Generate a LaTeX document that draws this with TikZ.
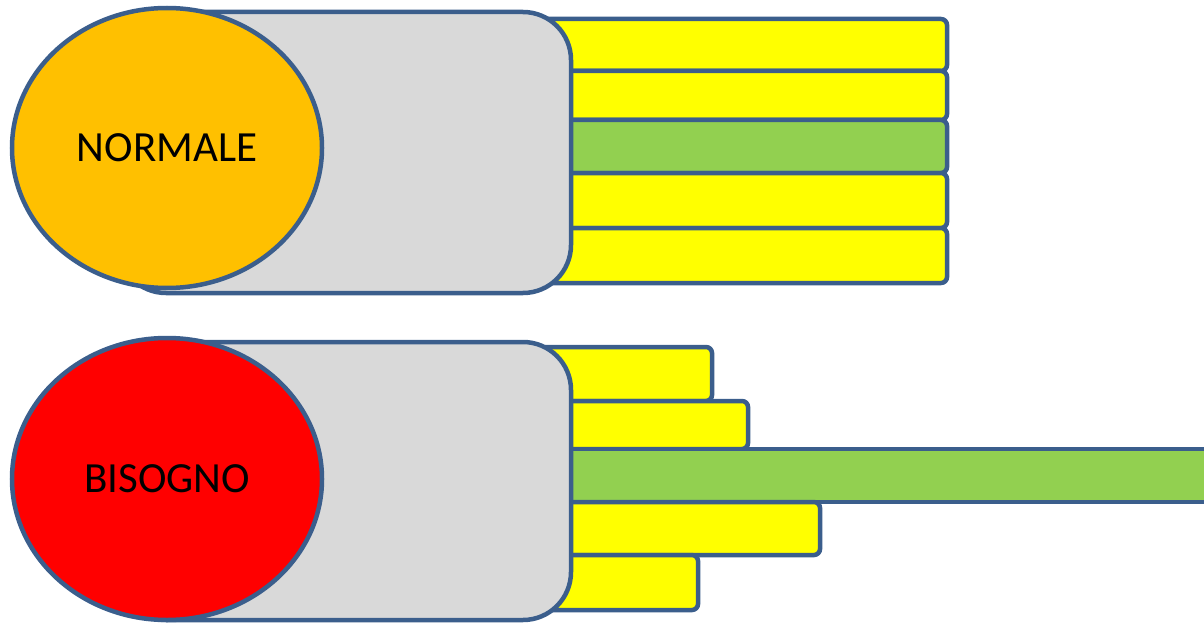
\documentclass[tikz,border=0pt]{standalone}
\usepackage{fontspec}
\setmainfont{Carlito}
\usetikzlibrary{shapes.geometric}
\definecolor{edgeblue}{HTML}{3B5E8C}
\definecolor{barYellow}{HTML}{FFFF00}
\definecolor{barGreen}{HTML}{92D050}
\definecolor{bodyGray}{HTML}{D9D9D9}
\definecolor{headOrange}{HTML}{FFC000}
\definecolor{headRed}{HTML}{FF0000}
\tikzset{
  barbox/.style={draw=edgeblue, line width=4.5pt, rounded corners=6pt},
  ybar/.style={barbox, fill=barYellow},
  gbar/.style={barbox, fill=barGreen},
  bodybox/.style={draw=edgeblue, line width=4.5pt, rounded corners=48pt, fill=bodyGray},
  headnode/.style={ellipse, draw=edgeblue, line width=4.5pt, inner sep=0pt,
    minimum width=310pt, minimum height=280pt, font=\fontsize{43}{51}\selectfont}
}
\begin{document}
\begin{tikzpicture}[x=1pt,y=-1pt]
\useasboundingbox (0,0) rectangle (1204,623);
\begin{scope}
\clip (0,0) rectangle (1204,623);
% top group
\draw[ybar] (540,19) rectangle (947,71);
\draw[ybar] (540,71) rectangle (947,120);
\draw[gbar] (540,120) rectangle (947,173);
\draw[ybar] (540,173) rectangle (947,228);
\draw[ybar] (540,228) rectangle (947,283);
\draw[bodybox] (118,12) rectangle (571,293);
\node[headnode, fill=headOrange] (normale) at (167,148) {NORMALE};
% bottom group
\draw[ybar] (540,347) rectangle (712,401);
\draw[ybar] (540,401) rectangle (748,449);
\draw[gbar, rounded corners=0pt] (560,449) rectangle (1230,502);
\draw[ybar] (540,502) rectangle (820,555);
\draw[ybar] (540,555) rectangle (698,610);
\draw[bodybox] (118,342) rectangle (571,620);
\node[headnode, fill=headRed, minimum height=282pt] (bisogno) at (167,479) {BISOGNO};
\end{scope}
\end{tikzpicture}
\end{document}
